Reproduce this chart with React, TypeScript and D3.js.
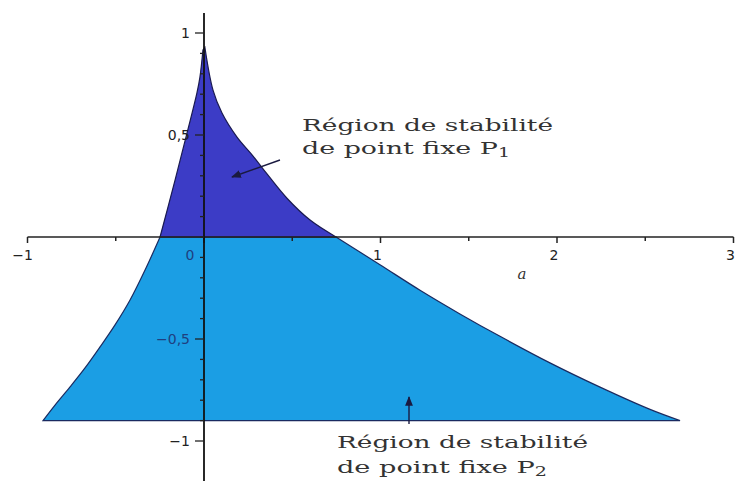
import React from 'react';
import * as d3 from 'd3';

// boundary of the stability regions (a, b)
const leftA = [-0.912, -0.844, -0.759, -0.674, -0.589, -0.504, -0.419, -0.334, -0.249, -0.164, -0.096, -0.04, -0.023, -0.006];
const leftB = [-0.9, -0.824, -0.735, -0.642, -0.539, -0.431, -0.309, -0.162, 0, 0.279, 0.51, 0.706, 0.784, 0.917];
const rightA = [0.005, 0.051, 0.102, 0.187, 0.278, 0.357, 0.47, 0.601, 0.748, 0.997, 1.224, 1.45, 1.677, 1.96, 2.244, 2.527, 2.697];
const rightB = [0.93, 0.72, 0.608, 0.49, 0.397, 0.309, 0.19, 0.083, 0, -0.136, -0.261, -0.377, -0.487, -0.617, -0.736, -0.845, -0.9];
const xTicks = [-1, 1, 2, 3];
const xMinor = [-1, -0.5, 0, 0.5, 1, 1.5, 2, 2.5, 3];
const yTicks = [1, 0.5, -0.5, -1];
const yMinor = d3.range(-10, 11).map(d => d / 10);

const W = 739;
const H = 481;

type Pt = [number, number];

const App = () => {
  const x = d3.scaleLinear().domain([-1, 3]).range([27.5, 733.5]);
  const y = d3.scaleLinear().domain([-1, 1]).range([441, 33]);

  const left = leftA.map((a, i) => [a, leftB[i]] as Pt);
  const right = rightA.map((a, i) => [a, rightB[i]] as Pt);

  // split at b = 0
  const leftUp = left.filter(d => d[1] >= 0);
  const leftDown = left.filter(d => d[1] <= 0);
  const rightUp = right.filter(d => d[1] >= 0);
  const rightDown = right.filter(d => d[1] <= 0);

  const curve = d3.line<Pt>().x(d => x(d[0])).y(d => y(d[1])).curve(d3.curveCatmullRom.alpha(0.5));
  const join = (...segs: Pt[][]) =>
    segs.map((s, i) => (i === 0 ? curve(s) : (curve(s) || '').replace(/^M/, 'L'))).join('') + 'Z';

  const p1 = join(leftUp, rightUp);
  const p2 = join(rightDown, leftDown);

  const tickFont = { fontFamily: 'DejaVu Sans, sans-serif', fontSize: 14, fill: '#222' };
  const labelFont = { fontFamily: 'DejaVu Serif, serif', fontSize: 17, fill: '#333' };

  return (
    <svg width={W} height={H} style={{ position: 'absolute', left: 0, top: 0, background: '#fff' }}>
      <defs>
        <marker id="ah" viewBox="0 0 10 10" refX="9" refY="5" markerWidth="7" markerHeight="7" orient="auto-start-reverse">
          <path d="M0,1 L10,5 L0,9 z" fill="#1a1a40" />
        </marker>
      </defs>

      <path d={p2} fill="#1b9ee4" stroke="#1a2a60" strokeWidth={1.2} />
      <path d={p1} fill="#3c3cc6" stroke="#1a1a50" strokeWidth={1.2} />

      {/* x axis */}
      <line x1={x(-1)} x2={x(3)} y1={y(0)} y2={y(0)} stroke="#222" strokeWidth={1.6} />
      {xMinor.map(t => (
        <line key={'xm' + t} x1={x(t)} x2={x(t)} y1={y(0)} y2={y(0) + (Number.isInteger(t) ? 6 : 4)} stroke="#222" strokeWidth={1.5} />
      ))}
      {xTicks.map(t => (
        <text key={'xt' + t} x={x(t) + (t === -1 ? -5 : -3)} y={y(0) + 23} textAnchor="middle" {...tickFont}>
          {t < 0 ? '\u2212' + Math.abs(t) : t}
        </text>
      ))}
      <text x={x(0) - 14} y={y(0) + 23} textAnchor="middle" {...tickFont} fill="#1f3f80">0</text>
      <text x={522} y={279} textAnchor="middle" fontFamily="DejaVu Serif, serif" fontStyle="italic" fontSize={15} fill="#333">a</text>

      {/* y axis */}
      <line x1={x(0)} x2={x(0)} y1={13} y2={H} stroke="#111" strokeWidth={1.8} />
      {yMinor.map(t => (
        <line key={'ym' + t} x1={x(0) - (Math.abs(t * 2) % 1 === 0 && t !== 0 ? 9 : 4)} x2={x(0)} y1={y(t)} y2={y(t)} stroke="#222" strokeWidth={1.3} />
      ))}
      {yTicks.map(t => (
        <text key={'yt' + t} x={x(0) - 14} y={y(t) + 5} textAnchor="end" {...tickFont} fill={t === -0.5 ? '#1f3f80' : '#222'}>
          {(t < 0 ? '\u2212' : '') + String(Math.abs(t)).replace('.', ',')}
        </text>
      ))}

      {/* annotations */}
      <text x={302} y={131} textLength={251} lengthAdjust="spacingAndGlyphs" {...labelFont}>Région de stabilité</text>
      <text x={302} y={154} textLength={208} lengthAdjust="spacingAndGlyphs" {...labelFont}>
        de point fixe P<tspan fontSize={12} dy={3}>1</tspan>
      </text>
      <line x1={280} y1={160} x2={232} y2={177} stroke="#1a1a40" strokeWidth={1.4} markerEnd="url(#ah)" />

      <text x={337} y={448} textLength={251} lengthAdjust="spacingAndGlyphs" {...labelFont}>Région de stabilité</text>
      <text x={337} y={473} textLength={210} lengthAdjust="spacingAndGlyphs" {...labelFont}>
        de point fixe P<tspan fontSize={12} dy={3}>2</tspan>
      </text>
      <line x1={409} y1={424} x2={409} y2={397} stroke="#1a1a40" strokeWidth={1.4} markerEnd="url(#ah)" />
    </svg>
  );
};

export default App;
